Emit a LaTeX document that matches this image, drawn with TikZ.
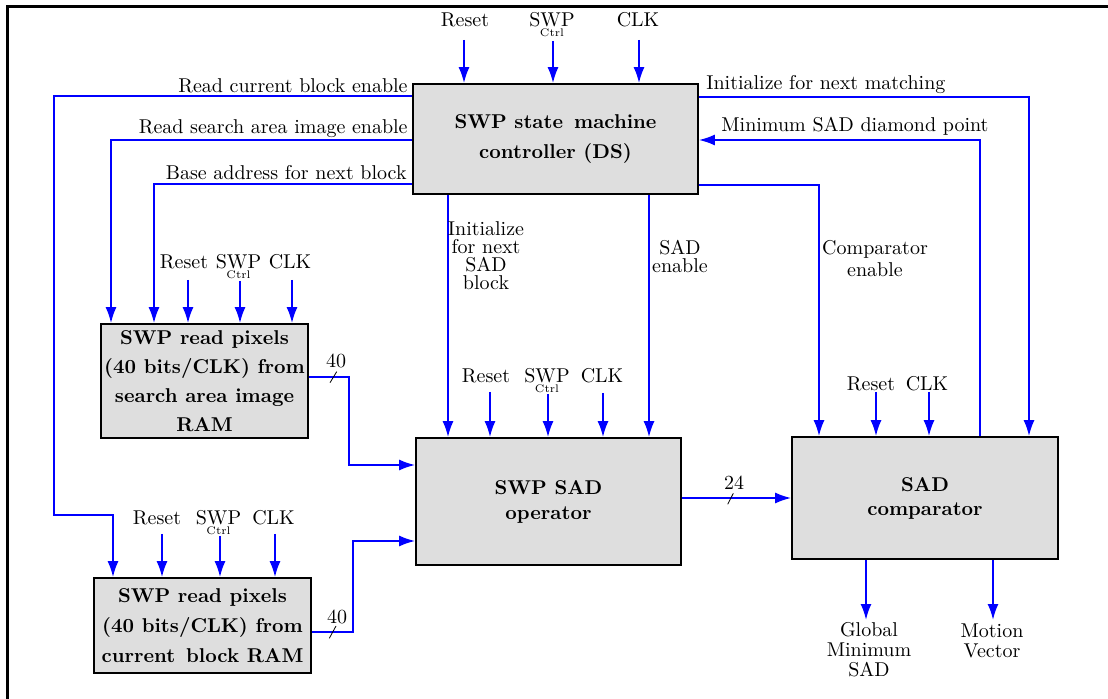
\documentclass[tikz,border=0pt]{standalone}
\usetikzlibrary{arrows.meta}
\begin{document}
\begin{tikzpicture}[x=0.5pt,y=-0.5pt,
  sig/.style={draw=blue, line width=1pt, -{Latex[length=8pt,width=5.5pt]}},
  blk/.style={draw=black, line width=0.8pt, fill=black!13, align=center, inner sep=0pt},
  lbl/.style={font=\fontsize{10}{12}\selectfont, inner sep=0pt, anchor=base},
  sublbl/.style={font=\fontsize{5.5}{6}\selectfont, inner sep=0pt, anchor=base},
  multi/.style={inner sep=0pt, align=center},
  bus/.style={draw=black, line width=0.4pt},
]
\useasboundingbox (0,0) rectangle (1108,699);
\draw[line width=1.5pt] (7,699) -- (7,7) -- (1108,7);

% blocks
\node[blk, minimum width=142.5pt, minimum height=55pt, font={\fontsize{10}{15}\selectfont\bfseries}] (ds) at (555.5,139) {SWP state\, machine\\controller (DS)};
\node[blk, minimum width=103.5pt, minimum height=57pt, font={\fontsize{10}{14.5}\selectfont\bfseries}] (sa) at (204.5,381) {SWP read pixels\\(40 bits/CLK) from\\search area image\\RAM};
\node[blk, minimum width=108.5pt, minimum height=47.5pt, font={\fontsize{10}{15}\selectfont\bfseries}] (crb) at (202.5,625.5) {SWP read pixels\\(40 bits/CLK) from\\current\, block RAM};
\node[blk, minimum width=132.5pt, minimum height=63.5pt, font={\fontsize{10}{12.5}\selectfont\bfseries}] (sad) at (548.5,501.5) {SWP SAD\\operator};
\node[blk, minimum width=133pt, minimum height=61pt, font={\fontsize{10}{12}\selectfont\bfseries}] (cmp) at (925,498) {SAD\\comparator};

% inputs of ds
\node[lbl] (dsRl) at (465,27) {Reset};
\node[lbl] (dsSl) at (552,27) {SWP};
\node[sublbl] (dsCl) at (552,37) {Ctrl};
\node[lbl] (dsKl) at (638,27) {CLK};
\coordinate (dsR) at (464,40);
\coordinate (dsS) at (553,41);
\coordinate (dsK) at (639,40);
\draw[sig] (dsR) -- (dsR |- ds.north);
\draw[sig] (dsS) -- (dsS |- ds.north);
\draw[sig] (dsK) -- (dsK |- ds.north);

% inputs of sa
\node[lbl] (saRl) at (184,269) {Reset};
\node[lbl] (saSl) at (238.5,269) {SWP};
\node[sublbl] (saCl) at (238.5,279) {Ctrl};
\node[lbl] (saKl) at (290,269) {CLK};
\coordinate (saR) at (188,280);
\coordinate (saS) at (240,281);
\coordinate (saK) at (292,280);
\draw[sig] (saR) -- (saR |- sa.north);
\draw[sig] (saS) -- (saS |- sa.north);
\draw[sig] (saK) -- (saK |- sa.north);

% inputs of sad
\node[lbl] (sdRl) at (486,383) {Reset};
\node[lbl] (sdSl) at (547,383) {SWP};
\node[sublbl] (sdCl) at (547,393) {Ctrl};
\node[lbl] (sdKl) at (602,383) {CLK};
\coordinate (sdR) at (490,392);
\coordinate (sdS) at (548,394);
\coordinate (sdK) at (603,393);
\draw[sig] (sdR) -- (sdR |- sad.north);
\draw[sig] (sdS) -- (sdS |- sad.north);
\draw[sig] (sdK) -- (sdK |- sad.north);

% inputs of cmp
\node[lbl] (cmRl) at (871,391) {Reset};
\node[lbl] (cmKl) at (927,391) {CLK};
\coordinate (cmR) at (876,392);
\coordinate (cmK) at (929,392);
\draw[sig] (cmR) -- (cmR |- cmp.north);
\draw[sig] (cmK) -- (cmK |- cmp.north);

% inputs of crb
\node[lbl] (crRl) at (157,525) {Reset};
\node[lbl] (crSl) at (218.5,525) {SWP};
\node[sublbl] (crCl) at (218.5,535) {Ctrl};
\node[lbl] (crKl) at (273.5,525) {CLK};
\coordinate (crR) at (162,534);
\coordinate (crS) at (220,536);
\coordinate (crK) at (275,534);
\draw[sig] (crR) -- (crR |- crb.north);
\draw[sig] (crS) -- (crS |- crb.north);
\draw[sig] (crK) -- (crK |- crb.north);

% control signals from ds, left side
\draw[sig] (ds.west |- 0,96) -- (54,96) -- (54,515) -- (113,515) -- (crb.north -| 113,0);
\node[lbl, anchor=base east] (l1) at (408,93) {Read current block enable};
\draw[sig] (ds.west |- 0,140) -- (111,140) -- (sa.north -| 111,0);
\node[lbl, anchor=base east] (l2) at (408,134) {Read search area image enable};
\draw[sig] (ds.west |- 0,184) -- (154,184) -- (sa.north -| 154,0);
\node[lbl, anchor=base east] (l3) at (407,180) {Base address for next block};

% right side
\draw[sig] (ds.east |- 0,97) -- (1029,97) -- (cmp.north -| 1029,0);
\node[lbl, anchor=base west] (l4) at (706,90) {Initialize for next matching};
\draw[sig] (cmp.north -| 980,0) -- (980,140) -- (ds.east |- 0,140);
\node[lbl, anchor=base west] (l5) at (721,132) {Minimum SAD diamond point};
\draw[sig] (ds.east |- 0,185) -- (819,185) -- (cmp.north -| 819,0);
\node[multi, font={\fontsize{10}{11}\selectfont}] (l6) at (875,259) {Comparator\\enable};

% bottom of ds
\draw[sig] (ds.south -| 448,0) -- (sad.north -| 448,0);
\node[multi, font={\fontsize{10}{9}\selectfont}] (l7) at (486,256) {Initialize\\for next\\SAD\\block};
\draw[sig] (ds.south -| 649,0) -- (sad.north -| 649,0);
\node[multi, font={\fontsize{10}{9}\selectfont}] (l8) at (680,256) {SAD\\enable};

% data buses
\draw[sig] (sa.east |- 0,377) -- (349,377) -- (349,465) -- (sad.west |- 0,465);
\draw[bus] (336.7,371.7) -- (330,382.7);
\node[lbl] (b1) at (336,368) {40};
\draw[sig] (crb.east |- 0,632) -- (353,632) -- (353,541) -- (sad.west |- 0,541);
\draw[bus] (336,626) -- (329.3,638.3);
\node[lbl] (b2) at (337,624) {40};
\draw[sig] (sad.east |- 0,498) -- (cmp.west |- 0,498);
\draw[bus] (733.3,493.3) -- (727.7,504.3);
\node[lbl] (b3) at (734,490) {24};

% outputs
\coordinate (o1) at (866,620);
\coordinate (o2) at (993,620);
\draw[sig] (cmp.south -| o1) -- (o1);
\draw[sig] (cmp.south -| o2) -- (o2);
\node[multi, font={\fontsize{10}{10}\selectfont}] (gms) at (869,650) {Global\\Minimum\\SAD};
\node[multi, font={\fontsize{10}{10}\selectfont}] (mv) at (992,641) {Motion\\Vector};
\end{tikzpicture}
\end{document}
